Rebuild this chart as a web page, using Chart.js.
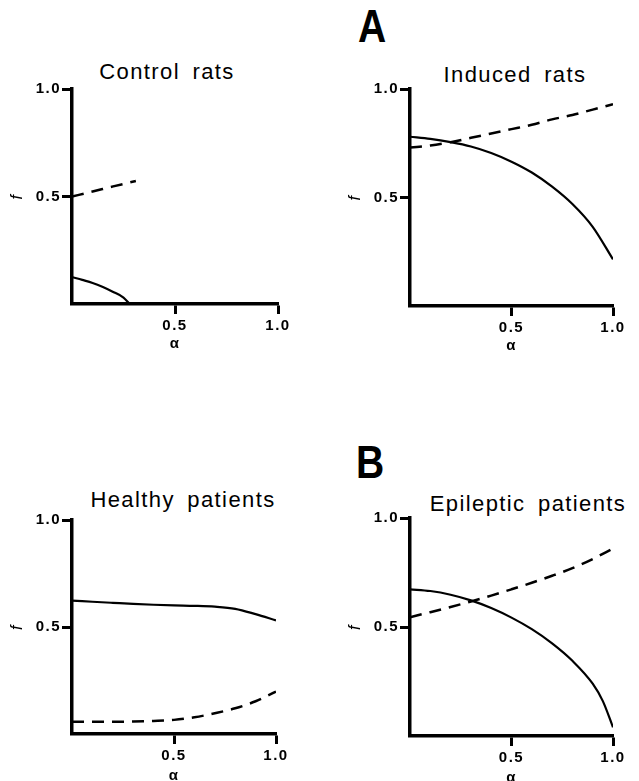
<!DOCTYPE html>
<html>
<head>
<meta charset="utf-8">
<script src="https://cdn.jsdelivr.net/npm/chart.js@4.4.1/dist/chart.umd.min.js"></script>
<style>
  html, body { margin: 0; padding: 0; background: #fff; overflow: hidden; }
  #page { position: relative; width: 639px; height: 781px; overflow: hidden; background: #fff; }
  canvas { position: absolute; }
  .panel-title {
    position: absolute; width: 300px; text-align: center; white-space: nowrap;
    font: 22px/22px "Liberation Sans", Arial, sans-serif; letter-spacing: 1.4px; word-spacing: 5px; color: #000;
  }
  .letter {
    position: absolute; font: bold 46px/46px "Liberation Sans", Arial, sans-serif; color: #000;
    transform: scaleX(0.85); transform-origin: left top;
  }
</style>
</head>
<body>
<div id="page">
  <div class="letter" style="left:358px; top:3px;">A</div>
  <div class="letter" style="left:356px; top:439px;">B</div>
  <div class="panel-title" id="t0" style="left:17px; top:61px;"></div>
  <div class="panel-title" id="t1" style="left:365px; top:64px;"></div>
  <div class="panel-title" id="t2" style="left:33px; top:489px;"></div>
  <div class="panel-title" id="t3" style="left:378px; top:493px;"></div>
  <canvas id="c0" width="320" height="390" style="left:0; top:0;"></canvas>
  <canvas id="c1" width="319" height="390" style="left:320px; top:0;"></canvas>
  <canvas id="c2" width="320" height="400" style="left:0; top:390px;"></canvas>
  <canvas id="c3" width="319" height="400" style="left:320px; top:390px;"></canvas>
</div>
<script>
// data
const panelTitles = ["Control rats", "Induced rats", "Healthy patients", "Epileptic patients"];
const tickValues = [0.5, 1.0];
const xAxisLabel = "α";
const yAxisLabel = "f";

const controlSolidAlpha = [0, 0.05, 0.1, 0.15, 0.2, 0.25, 0.28];
const controlSolidF = [0.125, 0.112, 0.098, 0.079, 0.056, 0.03, 0.0];
const controlDashAlpha = [0, 0.1, 0.2, 0.31];
const controlDashF = [0.5, 0.523, 0.547, 0.572];

const inducedAlpha = [0, 0.1, 0.2, 0.3, 0.4, 0.5, 0.6, 0.7, 0.8, 0.9, 1.0];
const inducedSolidF = [0.78, 0.77, 0.755, 0.735, 0.705, 0.665, 0.615, 0.55, 0.47, 0.365, 0.215];
const inducedDashF = [0.73, 0.74, 0.755, 0.775, 0.795, 0.815, 0.835, 0.86, 0.88, 0.905, 0.93];

const healthyAlpha = [0, 0.1, 0.2, 0.3, 0.4, 0.5, 0.6, 0.7, 0.8, 0.9, 1.0];
const healthySolidF = [0.623, 0.618, 0.613, 0.608, 0.604, 0.601, 0.599, 0.595, 0.585, 0.56, 0.531];
const healthyDashF = [0.057, 0.057, 0.057, 0.058, 0.061, 0.066, 0.078, 0.097, 0.12, 0.153, 0.198];

const epilepticSolidAlpha = [0, 0.1, 0.2, 0.3, 0.4, 0.5, 0.6, 0.7, 0.8, 0.9, 0.95, 1.0];
const epilepticSolidF = [0.673, 0.665, 0.648, 0.622, 0.587, 0.543, 0.49, 0.425, 0.345, 0.24, 0.16, 0.04];
const epilepticDashAlpha = [0, 0.1, 0.2, 0.3, 0.4, 0.5, 0.6, 0.7, 0.8, 0.9, 1.0];
const epilepticDashF = [0.545, 0.568, 0.592, 0.617, 0.644, 0.673, 0.703, 0.735, 0.77, 0.812, 0.86];

Chart.defaults.font.family = '"Liberation Sans", Arial, sans-serif';
Chart.defaults.color = "#000";

const toPoints = (xs, ys) => xs.map((x, i) => ({ x: x, y: ys[i] }));

// wider letter spacing like the typeset original
const spacingPlugin = {
  id: "spacing",
  beforeDraw: (chart) => { chart.ctx.letterSpacing = "1.5px"; }
};

// area = plot box inside the canvas, xh = height of the alpha axis block
const makePanel = (id, area, xh, solid, dashed) => {
  const canvas = document.getElementById(id);
  const yw = 64;
  new Chart(canvas, {
    type: "line",
    data: {
      datasets: [
        { data: solid, borderColor: "#000", borderWidth: 2.2, pointRadius: 0, cubicInterpolationMode: "monotone" },
        { data: dashed, borderColor: "#000", borderWidth: 2.5, borderDash: [12, 8], pointRadius: 0, cubicInterpolationMode: "monotone" }
      ]
    },
    options: {
      responsive: false,
      animation: false,
      events: [],
      layout: {
        padding: {
          left: area.left - yw,
          right: canvas.width - area.right,
          top: area.top,
          bottom: canvas.height - area.bottom - xh
        }
      },
      plugins: { legend: { display: false }, tooltip: { enabled: false }, title: { display: false } },
      scales: {
        x: {
          type: "linear", min: 0, max: 1,
          afterBuildTicks: (s) => { s.ticks = tickValues.map(v => ({ value: v })); },
          afterFit: (s) => { s.height = xh; },
          ticks: { font: { size: 15, weight: "bold" }, padding: 3, maxRotation: 0, callback: v => v.toFixed(1) },
          grid: { drawOnChartArea: false, tickLength: 10, tickWidth: 3, tickColor: "#000" },
          border: { display: true, width: 3.5, color: "#000" },
          title: { display: true, text: xAxisLabel, font: { size: 15, weight: "bold" }, padding: 0 }
        },
        y: {
          type: "linear", min: 0, max: 1,
          afterBuildTicks: (s) => { s.ticks = tickValues.map(v => ({ value: v })); },
          afterFit: (s) => { s.width = yw; },
          ticks: { font: { size: 15, weight: "bold" }, padding: 1, callback: v => v.toFixed(1) },
          grid: { drawOnChartArea: false, tickLength: 10, tickWidth: 3, tickColor: "#000" },
          border: { display: true, width: 3.5, color: "#000" },
          title: { display: true, text: yAxisLabel, font: { size: 16, style: "italic" }, padding: 0 }
        }
      }
    },
    plugins: [spacingPlugin]
  });
};

panelTitles.forEach((t, i) => { document.getElementById("t" + i).textContent = t; });

makePanel("c0", { left: 72, right: 278, top: 89, bottom: 304 }, 49,
  toPoints(controlSolidAlpha, controlSolidF), toPoints(controlDashAlpha, controlDashF));
makePanel("c1", { left: 90, right: 293, top: 89, bottom: 306 }, 49,
  toPoints(inducedAlpha, inducedSolidF), toPoints(inducedAlpha, inducedDashF));
makePanel("c2", { left: 72, right: 276, top: 130, bottom: 344 }, 51,
  toPoints(healthyAlpha, healthySolidF), toPoints(healthyAlpha, healthyDashF));
makePanel("c3", { left: 90, right: 293, top: 128, bottom: 346 }, 51,
  toPoints(epilepticSolidAlpha, epilepticSolidF), toPoints(epilepticDashAlpha, epilepticDashF));
</script>
</body>
</html>
